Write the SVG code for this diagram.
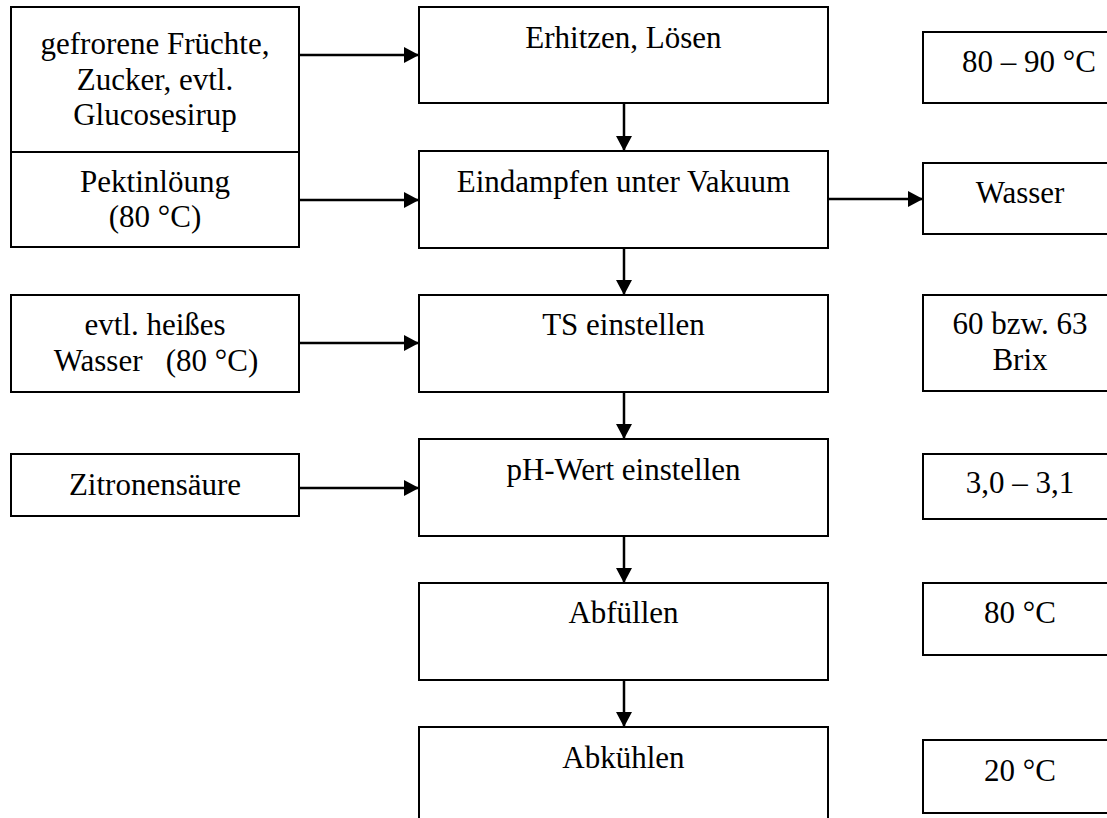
<svg xmlns="http://www.w3.org/2000/svg" width="1107" height="818" viewBox="0 0 1107 818">
<style>
.box{fill:#fff;stroke:#000;stroke-width:2}
.t{font-family:"Liberation Serif","Times New Roman",serif;font-size:31px;fill:#000;text-anchor:middle;white-space:pre}
.c{stroke:#000;stroke-width:2.5;fill:none;marker-end:url(#ah)}
</style>
<defs>
<marker id="ah" markerWidth="15" markerHeight="16" refX="15" refY="8" orient="auto" markerUnits="userSpaceOnUse">
<path d="M0,0 L15,8 L0,16 z" fill="#000"/>
</marker>
</defs>
<rect width="1107" height="818" fill="#fff"/>

<g id="in-fruechte">
<rect class="box" x="11" y="7" width="288" height="145"/>
<text class="t" x="155" y="54">gefrorene Früchte,</text>
<text class="t" x="155" y="90">Zucker, evtl.</text>
<text class="t" x="155" y="125">Glucosesirup</text>
</g>
<g id="in-pektin">
<rect class="box" x="11" y="152" width="288" height="95"/>
<text class="t" x="155" y="192">Pektinlöung</text>
<text class="t" x="155" y="227">(80 °C)</text>
</g>
<g id="in-wasser">
<rect class="box" x="11" y="295" width="288" height="97"/>
<text class="t" x="155" y="335">evtl. heißes</text>
<text class="t" x="156" y="371">Wasser   (80 °C)</text>
</g>
<g id="in-zitrone">
<rect class="box" x="11" y="454" width="288" height="62"/>
<text class="t" x="155" y="495">Zitronensäure</text>
</g>

<g id="s-erhitzen">
<rect class="box" x="419" y="7" width="409" height="96"/>
<text class="t" x="623.5" y="48">Erhitzen, Lösen</text>
</g>
<g id="s-eindampfen">
<rect class="box" x="419" y="151" width="409" height="97"/>
<text class="t" x="623.5" y="192">Eindampfen unter Vakuum</text>
</g>
<g id="s-ts">
<rect class="box" x="419" y="295" width="409" height="97"/>
<text class="t" x="623.5" y="335">TS einstellen</text>
</g>
<g id="s-ph">
<rect class="box" x="419" y="439" width="409" height="97"/>
<text class="t" x="623.5" y="480">pH-Wert einstellen</text>
</g>
<g id="s-abfuellen">
<rect class="box" x="419" y="583" width="409" height="97"/>
<text class="t" x="623.5" y="623">Abfüllen</text>
</g>
<g id="s-abkuehlen">
<rect class="box" x="419" y="727" width="409" height="110"/>
<text class="t" x="623.5" y="768">Abkühlen</text>
</g>

<g id="p-temp1">
<rect class="box" x="923" y="32" width="220" height="71"/>
<text class="t" x="1029" y="72">80 – 90 °C</text>
</g>
<g id="p-wasser">
<rect class="box" x="923" y="163" width="220" height="71"/>
<text class="t" x="1020" y="203">Wasser</text>
</g>
<g id="p-brix">
<rect class="box" x="923" y="295" width="220" height="96"/>
<text class="t" x="1020" y="334">60 bzw. 63</text>
<text class="t" x="1020" y="370">Brix</text>
</g>
<g id="p-ph">
<rect class="box" x="923" y="454" width="220" height="65"/>
<text class="t" x="1020" y="493">3,0 – 3,1</text>
</g>
<g id="p-temp2">
<rect class="box" x="923" y="583" width="220" height="72"/>
<text class="t" x="1020" y="623">80 °C</text>
</g>
<g id="p-temp3">
<rect class="box" x="923" y="740" width="220" height="73"/>
<text class="t" x="1020" y="781">20 °C</text>
</g>

<g id="connectors">
<line class="c" x1="299" y1="55" x2="419" y2="55"/>
<line class="c" x1="299" y1="200" x2="419" y2="200"/>
<line class="c" x1="299" y1="343" x2="419" y2="343"/>
<line class="c" x1="299" y1="488" x2="419" y2="488"/>
<line class="c" x1="828" y1="199" x2="923" y2="199"/>
<line class="c" x1="624" y1="103" x2="624" y2="151"/>
<line class="c" x1="624" y1="248" x2="624" y2="295"/>
<line class="c" x1="624" y1="392" x2="624" y2="439"/>
<line class="c" x1="624" y1="536" x2="624" y2="583"/>
<line class="c" x1="624" y1="680" x2="624" y2="727"/>
</g>
</svg>
